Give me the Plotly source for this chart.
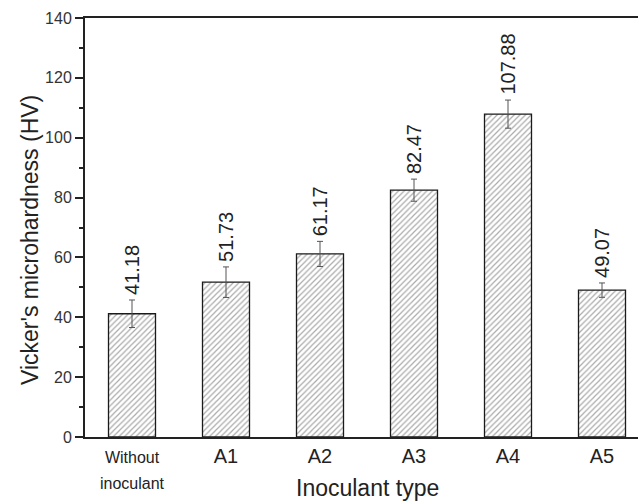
import plotly.graph_objects as go

categories = ["Without inoculant", "A1", "A2", "A3", "A4", "A5"]
tick_labels = ["<span style='font-size:16px'>Without</span><br><span style='font-size:16px'>inoculant</span>",
               "A1", "A2", "A3", "A4", "A5"]
hardness = [41.18, 51.73, 61.17, 82.47, 107.88, 49.07]
errors = [4.6, 5.1, 4.2, 3.7, 4.7, 2.4]
value_labels = ["41.18", "51.73", "61.17", "82.47", "107.88", "49.07"]

FONT = "Liberation Sans, Arial, sans-serif"
xpos = list(range(len(categories)))

fig = go.Figure()
fig.add_trace(go.Bar(
    x=xpos, y=hardness, width=0.5,
    marker=dict(color="white",
                line=dict(color="#1a1a1a", width=1.3),
                pattern=dict(shape="/", fgcolor="#555555", bgcolor="white",
                             size=4, solidity=0.3)),
    error_y=dict(type="data", array=errors, visible=True, color="#555555",
                 thickness=1, width=3),
    showlegend=False,
))

for xi, v, e, lab in zip(xpos, hardness, errors, value_labels):
    fig.add_annotation(x=xi, y=v + e, text=lab, textangle=-90, showarrow=False,
                       xanchor="center", yanchor="bottom", yshift=3,
                       font=dict(family=FONT, size=20, color="#222222"))

W, H = 638, 501
L, R, T, B = 85, 0, 18, 64
pw = W - L - R
ph = H - T - B

fig.add_annotation(xref="paper", yref="paper",
                   x=(367 - L) / pw, y=-(488 - (H - B)) / ph,
                   text="Inoculant type", showarrow=False,
                   xanchor="center", yanchor="middle",
                   font=dict(family=FONT, size=23, color="#222222"))
fig.add_annotation(xref="paper", yref="paper",
                   x=(30 - L) / pw, y=((H - B) - 240) / ph,
                   text="Vicker's microhardness (HV)", showarrow=False, textangle=-90,
                   xanchor="center", yanchor="middle",
                   font=dict(family=FONT, size=23, color="#222222"))

fig.update_layout(
    width=W, height=H,
    margin=dict(l=L, r=R, t=T, b=B, pad=0),
    plot_bgcolor="white", paper_bgcolor="white",
    font=dict(family=FONT, color="#333333"),
    xaxis=dict(range=[-0.5, 5.5 - 11 / 94], tickvals=xpos, ticktext=tick_labels,
               showline=True, linecolor="#222222", linewidth=2, mirror=True,
               ticks="", showgrid=False, zeroline=False,
               tickfont=dict(family=FONT, size=20, color="#222222")),
    yaxis=dict(range=[0, 140], dtick=20, showline=True, linecolor="#222222", linewidth=2,
               ticks="outside", ticklen=8, tickwidth=1.5, tickcolor="#222222",
               minor=dict(dtick=10, ticks="outside", ticklen=4, tickwidth=1.5, tickcolor="#222222"),
               showgrid=False, zeroline=False,
               tickfont=dict(family=FONT, size=16, color="#333333")),
)

fig.write_html("out.html")
